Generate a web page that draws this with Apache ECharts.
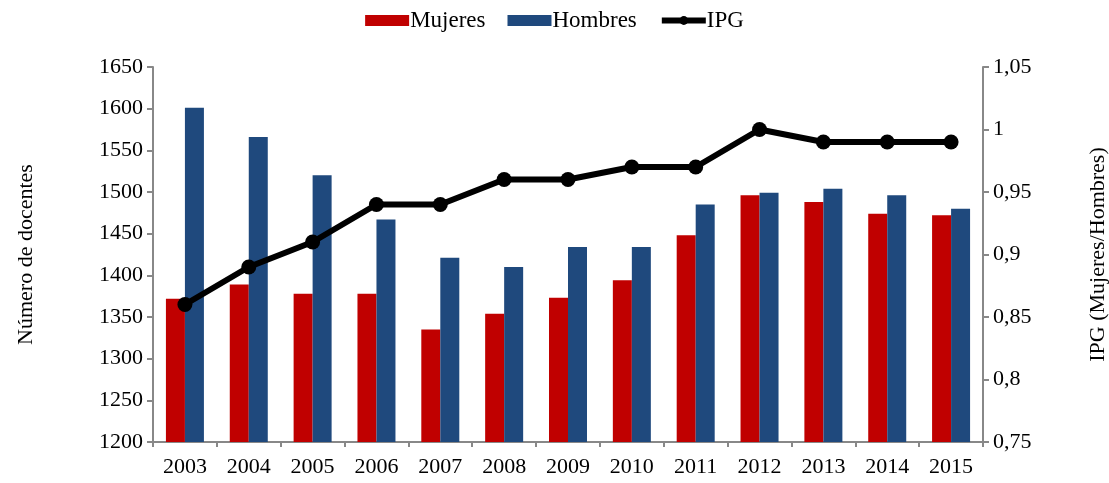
<!DOCTYPE html>
<html>
<head>
<meta charset="utf-8">
<script src="https://cdn.jsdelivr.net/npm/echarts@6/dist/echarts.min.js"></script>
<style>
html, body { margin: 0; padding: 0; background: #fff; }
#main { width: 1109px; height: 483px; }
</style>
</head>
<body>
<div id="main"></div>
<script>
var years = ['2003','2004','2005','2006','2007','2008','2009','2010','2011','2012','2013','2014','2015'];
var mujeres = [1372, 1389, 1378, 1378, 1335, 1354, 1373, 1394, 1448, 1496, 1488, 1474, 1472];
var hombres = [1601, 1566, 1520, 1467, 1421, 1410, 1434, 1434, 1485, 1499, 1504, 1496, 1480];
var ipg = [0.86, 0.89, 0.91, 0.94, 0.94, 0.96, 0.96, 0.97, 0.97, 1.00, 0.99, 0.99, 0.99];

var fuente = '"Liberation Serif", "DejaVu Serif", serif';

var chart = echarts.init(document.getElementById('main'));
var opt = {
    backgroundColor: '#fff',
    textStyle: { fontFamily: fuente },
    animation: false,
    legend: {
        top: 4,
        left: 'center',
        itemWidth: 44,
        itemHeight: 11,
        itemGap: 22,
        textStyle: { fontFamily: fuente, fontSize: 23, color: '#000', padding: [0, 0, 0, -4] },
        data: [
            { name: 'Mujeres', icon: 'rect' },
            { name: 'Hombres', icon: 'rect' },
            { name: 'IPG', lineStyle: { width: 6, color: '#000' } }
        ]
    },
    grid: { left: 153, right: 126, top: 67, bottom: 41, containLabel: false, outerBoundsMode: 'none' },
    xAxis: {
        type: 'category',
        data: years,
        axisLine: { lineStyle: { color: '#888', width: 2 } },
        axisTick: { show: true, length: 5, lineStyle: { color: '#888', width: 2 } },
        axisLabel: { color: '#000', fontSize: 22, margin: 14, fontFamily: fuente }
    },
    yAxis: [{
        type: 'value',
        min: 1200, max: 1650, interval: 50,
        name: 'Número de docentes',
        nameLocation: 'middle',
        nameGap: 116,
        nameTextStyle: { fontSize: 22, color: '#000', fontFamily: fuente },
        axisLine: { show: true, lineStyle: { color: '#888', width: 2 } },
        axisTick: { show: true, length: 6, lineStyle: { color: '#888', width: 2 } },
        splitLine: { show: false },
        axisLabel: {
            color: '#000', fontSize: 22, margin: 10, fontFamily: fuente,
            formatter: function (v) { return String(v); }
        }
    }, {
        type: 'value',
        min: 0.75, max: 1.05, interval: 0.05,
        name: 'IPG (Mujeres/Hombres)',
        nameLocation: 'middle',
        nameGap: 104,
        nameRotate: 90,
        nameTextStyle: { fontSize: 22, color: '#000', fontFamily: fuente },
        axisLine: { show: true, lineStyle: { color: '#888', width: 2 } },
        axisTick: { show: true, length: 6, lineStyle: { color: '#888', width: 2 } },
        splitLine: { show: false },
        axisLabel: {
            color: '#000', fontSize: 22, margin: 10, fontFamily: fuente,
            formatter: function (v) {
                return String(parseFloat(v.toFixed(2))).replace('.', ',');
            }
        }
    }],
    series: [{
        name: 'Mujeres',
        type: 'bar',
        data: mujeres,
        barWidth: 19,
        barGap: '0%',
        itemStyle: { color: '#C00000' }
    }, {
        name: 'Hombres',
        type: 'bar',
        data: hombres,
        barWidth: 19,
        barGap: '0%',
        itemStyle: { color: '#1F497D' }
    }, {
        name: 'IPG',
        type: 'line',
        yAxisIndex: 1,
        data: ipg,
        symbol: 'circle',
        symbolSize: 15,
        itemStyle: { color: '#000' },
        lineStyle: { color: '#000', width: 6 },
        z: 5
    }]
};
chart.setOption(opt);
</script>
</body>
</html>
